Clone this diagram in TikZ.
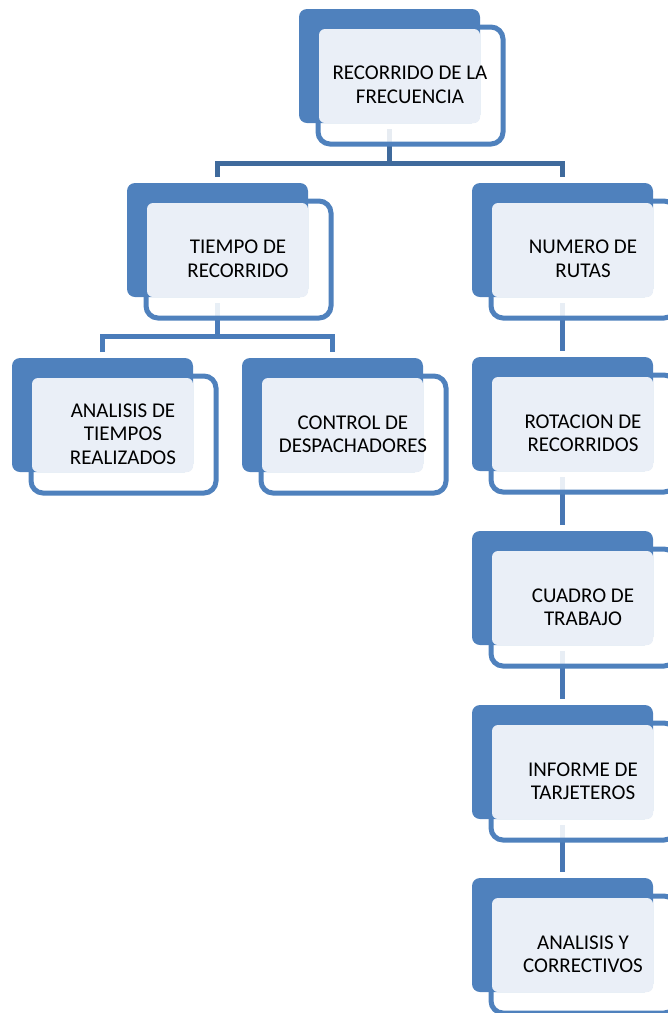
\documentclass[tikz,border=0pt]{standalone}
\usepackage{fontspec}
\setmainfont{Carlito}
\usetikzlibrary{calc,backgrounds}
\definecolor{accent}{HTML}{4F81BD}
\definecolor{paleFill}{HTML}{EAEFF7}
\definecolor{connTop}{HTML}{3F6A9C}
\definecolor{connMid}{HTML}{4A7CBA}
\definecolor{connCol}{HTML}{4877B4}
\tikzset{
  backbox/.style={fill=accent, rounded corners=8pt, inner sep=0pt, outer sep=0pt,
    minimum width=181pt, minimum height=114pt, anchor=north west},
  framebox/.style={draw=accent, line width=5pt, fill=white, fill opacity=0.88,
    rounded corners=12pt, inner sep=0pt, outer sep=0pt,
    minimum width=185pt, minimum height=117pt, anchor=north west},
  palebox/.style={fill=paleFill, rounded corners=6pt, inner sep=0pt, outer sep=0pt,
    minimum width=161pt, minimum height=94pt, anchor=north west},
  lbl/.style={font=\fontsize{21}{23.5}\selectfont, align=center, inner sep=0pt, text=black},
  linkA/.style={draw=connTop, line width=5pt},
  linkB/.style={draw=connMid, line width=5pt},
  linkC/.style={draw=connCol, line width=5pt},
}
\newcommand\myblock[4]{%
  \node[framebox] (#1f) at (#2+19,#3+18) {};
  \node[backbox] (#1) at (#2,#3) {};
  \node[palebox] (#1p) at (#2+20,#3+20) {};
  \node[lbl] (#1t) at (#2+111,#3+76) {#4};
}
\begin{document}
\begin{tikzpicture}[x=1pt,y=-1pt]
\path[use as bounding box] (0,0) rectangle (668,1013);
\clip (0,0) rectangle (668,1013);
\myblock{root}{299}{9}{RECORRIDO DE LA\\FRECUENCIA}
\myblock{tiempo}{127}{183}{TIEMPO DE\\RECORRIDO}
\myblock{analisis}{12}{358}{ANALISIS DE\\TIEMPOS\\REALIZADOS}
\myblock{control}{242}{358}{CONTROL DE\\DESPACHADORES}
\myblock{numero}{472}{183}{NUMERO DE\\RUTAS}
\myblock{rotacion}{472}{357}{ROTACION DE\\RECORRIDOS}
\myblock{cuadro}{472}{531}{CUADRO DE\\TRABAJO}
\myblock{informe}{472}{705}{INFORME DE\\TARJETEROS}
\myblock{correct}{472}{878}{ANALISIS Y\\CORRECTIVOS}
\begin{scope}[on background layer]
  \draw[linkA] ($(root.south)+(0,6)$) -- ++(0,34) coordinate (rb);
  \draw[linkA] ($(tiempo.north)+(0,-6)$) |- (rb) -| ($(numero.north)+(0,-6)$);
  \draw[linkB] ($(tiempo.south)+(0,6)$) -- ++(0,33) coordinate (tb);
  \draw[linkB] ($(analisis.north)+(0,-6)$) |- (tb) -| ($(control.north)+(0,-6)$);
  \draw[linkC] ($(numero.south)+(0,6)$) -- ($(rotacion.north)+(0,-6)$);
  \draw[linkC] ($(rotacion.south)+(0,6)$) -- ($(cuadro.north)+(0,-6)$);
  \draw[linkC] ($(cuadro.south)+(0,6)$) -- ($(informe.north)+(0,-6)$);
  \draw[linkC] ($(informe.south)+(0,6)$) -- ($(correct.north)+(0,-6)$);
\end{scope}
\end{tikzpicture}
\end{document}
